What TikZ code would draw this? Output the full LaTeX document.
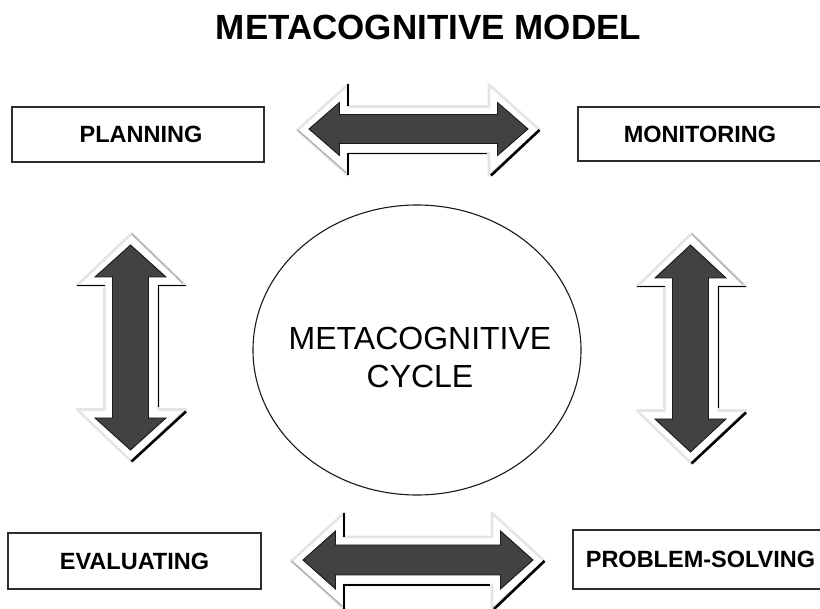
\documentclass[tikz,border=0pt]{standalone}
\usepackage{fontspec}
\setmainfont{Liberation Sans}
\usetikzlibrary{shapes.geometric}
\definecolor{arrowdark}{RGB}{66,66,66}
\definecolor{boxline}{RGB}{45,45,45}
\tikzset{
  labelbox/.style={draw=boxline, line width=1.3pt, rectangle, inner sep=0pt,
    font=\bfseries\fontsize{23.5}{28}\selectfont},
  glowline/.style={draw=gray!20, line width=2.6pt, line join=round},
  edgeblack/.style={draw=black, line width=1.6pt},
  edgethick/.style={draw=black, line width=2.6pt},
  edgegray/.style={draw=gray!70, line width=1pt},
  darkarrow/.style={fill=arrowdark, draw=black!90, line width=0.9pt, line join=miter},
}
\newcommand{\blockarrow}[4]{%
  \pgfmathsetmacro\oA{#1+11.5}%
  \pgfmathsetmacro\oB{#2-8.5}%
  \pgfmathsetmacro\oC{#3+19}%
  \pgfmathsetmacro\oD{#4+9}%
  \draw[glowline] (-\oA,1) -- (-\oB,1-\oC) -- (-\oB,1-\oD) -- (\oB,1-\oD) -- (\oB,1-\oC) -- (\oA,1)
     -- (\oB,1+\oC) -- (\oB,1+\oD) -- (-\oB,1+\oD) -- (-\oB,1+\oC) -- cycle;
  \draw[edgeblack] (-\oB,1-\oC) -- (-\oB,1-\oD);
  \draw[edgeblack] (-\oB,1+\oC) -- (-\oB,1+\oD) -- (\oB-2,1+\oD);
  \draw[edgethick] (\oB+2,1+\oC) -- (\oA,1);
  \draw[edgegray] (-\oA,1) -- (-\oB-2,1+\oC-3);
  \filldraw[darkarrow] (-#1,0) -- (-#2,-#3) -- (-#2,-#4) -- (#2,-#4) -- (#2,-#3) -- (#1,0)
     -- (#2,#3) -- (#2,#4) -- (-#2,#4) -- (-#2,#3) -- cycle;
}
\begin{document}
\begin{tikzpicture}[x=1pt,y=-1pt]
\useasboundingbox (0,0) rectangle (820,609);
\clip (0,0) rectangle (820,609);
\fill[white] (0,0) rectangle (820,609);

% title
\node[font=\bfseries\fontsize{35}{40}\selectfont, inner sep=0pt] (title) at (428.5,27.5) {METACOGNITIVE MODEL};

% boxes
\node[labelbox, minimum width=252pt, minimum height=55pt] (planning) at (138,134.5) {\hspace*{6pt}PLANNING};
\node[labelbox, minimum width=244pt, minimum height=54pt] (monitoring) at (700,134) {MONITORING};
\node[labelbox, minimum width=253pt, minimum height=56pt] (evaluating) at (134.5,561) {EVALUATING};
\node[labelbox, minimum width=255pt, minimum height=59pt] (problem) at (700.5,559.5) {PROBLEM-SOLVING};

% central ellipse
\node[ellipse, draw=black!90, line width=1.1pt, minimum width=328pt, minimum height=290pt, inner sep=0pt] (cycle) at (417,350) {};
\node[align=center, inner sep=0pt, font=\fontsize{32}{38}\selectfont] (cycletext) at (420,357) {METACOGNITIVE\\CYCLE};

% block arrows
\begin{scope}[shift={(418.5pt,-129pt)}, x={(1pt,0pt)}, y={(0pt,-1pt)}]
  \blockarrow{109.5}{79}{26.5}{14.5}
\end{scope}
\begin{scope}[shift={(418pt,-560pt)}, x={(1pt,0pt)}, y={(0pt,-1pt)}]
  \blockarrow{115}{82.5}{29}{15}
\end{scope}
\begin{scope}[shift={(130.5pt,-347.5pt)}, x={(0pt,-1pt)}, y={(1pt,0pt)}]
  \blockarrow{102.5}{70.5}{35.5}{18}
\end{scope}
\begin{scope}[shift={(690.5pt,-348.5pt)}, x={(0pt,-1pt)}, y={(1pt,0pt)}]
  \blockarrow{103.5}{70.5}{35.5}{18}
\end{scope}
\end{tikzpicture}
\end{document}
